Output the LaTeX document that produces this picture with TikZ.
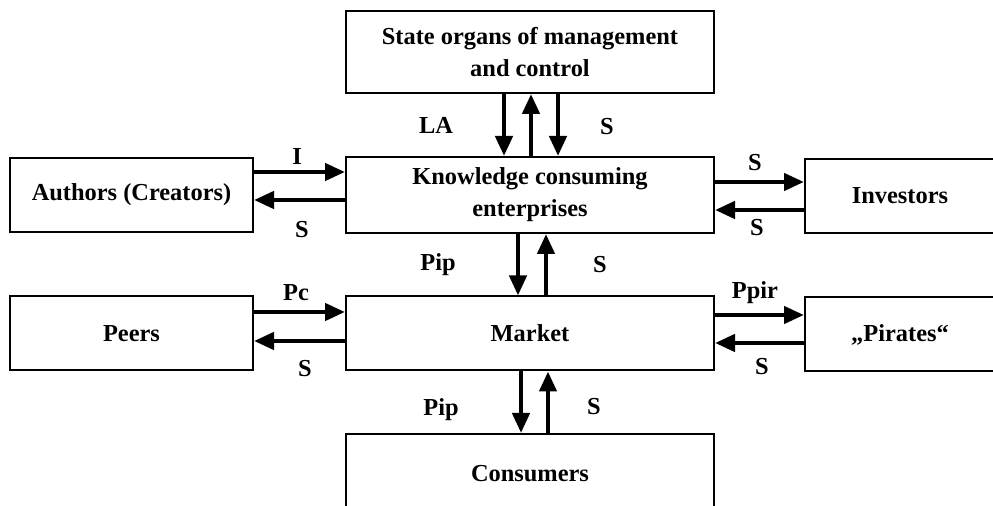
\documentclass[tikz,border=0pt]{standalone}
\usepackage{fontspec}
\setmainfont{Liberation Serif}
\usetikzlibrary{arrows.meta}
\tikzset{
  box/.style = {draw, line width = 1pt, inner sep = 0pt, align = center,
                font = \fontsize{12.2}{16}\selectfont\bfseries},
  lbl/.style = {inner sep = 0pt, font = \fontsize{12.2}{14}\selectfont\bfseries},
  arr/.style = {line width = 2.2pt, -{Triangle[length = 10pt, width = 8.5pt]}}
}

\begin{document}
\begin{tikzpicture}[x = 0.5pt, y = -0.5pt]
		\clip (0, 0) rectangle (993, 506);
		%%%%%%%%%%%%%
		\node[box, minimum width = 184pt, minimum height = 41pt] (state) at (530, 52) {State organs of management\\and control};
		\node[box, minimum width = 184pt, minimum height = 38pt] (kce) at (530, 195) {Knowledge consuming\\enterprises};
		\node[box, minimum width = 121.5pt, minimum height = 37pt] (auth) at (131.5, 195) {Authors (Creators)};
		\node[box, minimum width = 95pt, minimum height = 37pt] (inv) at (900, 196) {Investors};
		\node[box, minimum width = 184pt, minimum height = 37pt] (market) at (530, 333.5) {Market};
		\node[box, minimum width = 121.5pt, minimum height = 37pt] (peers) at (131.5, 333.5) {Peers};
		\node[box, minimum width = 95pt, minimum height = 37pt] (pir) at (900, 334.5) {,,Pirates``};
		\node[box, minimum width = 184pt, minimum height = 40pt] (cons) at (530, 474) {Consumers};
		%%%%%%%%%%%%%
		\draw[arr] ([xshift = -13pt]state.south) to ([xshift = -13pt]kce.north);
		\draw[arr] ([xshift = 0.5pt]kce.north) to ([xshift = 0.5pt]state.south);
		\draw[arr] ([xshift = 14pt]state.south) to ([xshift = 14pt]kce.north);
		\draw[arr] ([xshift = -6pt]kce.south) to ([xshift = -6pt]market.north);
		\draw[arr] ([xshift = 8pt]market.north) to ([xshift = 8pt]kce.south);
		\draw[arr] ([xshift = -4.5pt]market.south) to ([xshift = -4.5pt]cons.north);
		\draw[arr] ([xshift = 9pt]cons.north) to ([xshift = 9pt]market.south);
		%%%%%%%%%%%%%
		\draw[arr] ([yshift = 11.5pt]auth.east) to ([yshift = 11.5pt]kce.west);
		\draw[arr] ([yshift = -2.5pt]kce.west) to ([yshift = -2.5pt]auth.east);
		\draw[arr] ([yshift = 6.5pt]kce.east) to ([yshift = 6.5pt]kce.east -| inv.west);
		\draw[arr] ([yshift = -7.5pt]kce.east -| inv.west) to ([yshift = -7.5pt]kce.east);
		\draw[arr] ([yshift = 10.75pt]peers.east) to ([yshift = 10.75pt]market.west);
		\draw[arr] ([yshift = -3.75pt]market.west) to ([yshift = -3.75pt]peers.east);
		\draw[arr] ([yshift = 9.25pt]market.east) to ([yshift = 9.25pt]market.east -| pir.west);
		\draw[arr] ([yshift = -4.75pt]market.east -| pir.west) to ([yshift = -4.75pt]market.east);
		%%%%%%%%%%%%%
		\node[lbl] (la) at (436, 125) {LA};
		\node[lbl] (s1) at (607, 127) {S};
		\node[lbl] (i) at (297, 157) {I};
		\node[lbl] (s2) at (302, 230) {S};
		\node[lbl] (s3) at (755, 163) {S};
		\node[lbl] (s4) at (757, 228) {S};
		\node[lbl] (pip1) at (438, 265) {Pip};
		\node[lbl] (s5) at (600, 265) {S};
		\node[lbl] (pc) at (296, 293) {Pc};
		\node[lbl] (s6) at (305, 369) {S};
		\node[lbl] (ppir) at (755, 293) {Ppir};
		\node[lbl] (s7) at (762, 367) {S};
		\node[lbl] (pip2) at (441, 410) {Pip};
		\node[lbl] (s8) at (594, 407) {S};
\end{tikzpicture}
\end{document}
